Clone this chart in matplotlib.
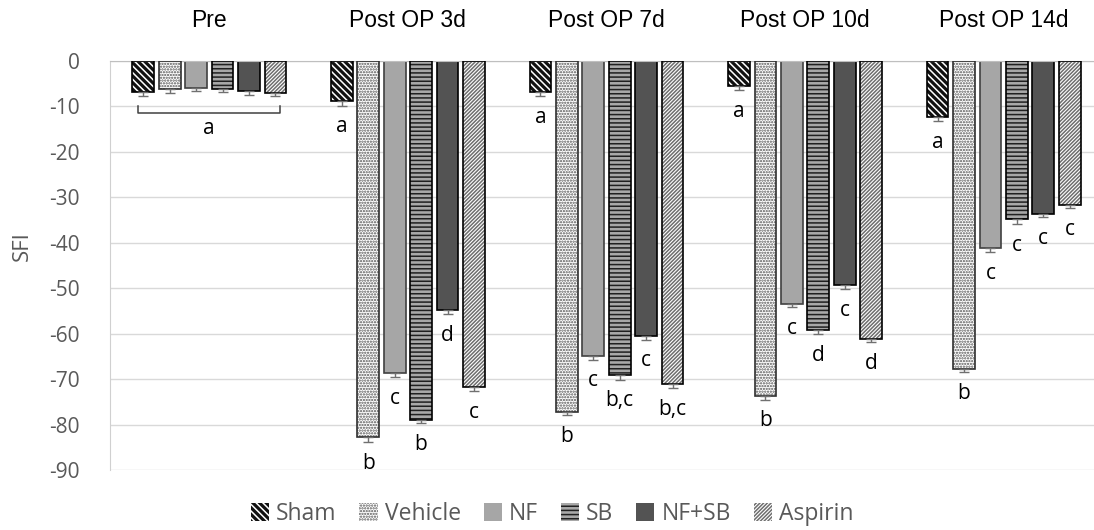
import matplotlib
matplotlib.use("Agg")
import matplotlib.pyplot as plt
import numpy as np

groups = ["Pre", "Post OP 3d", "Post OP 7d", "Post OP 10d", "Post OP 14d"]
series = ["Sham", "Vehicle", "NF", "SB", "NF+SB", "Aspirin"]

# SFI means per series, one value per time point
sham = [-6.8, -8.9, -6.9, -5.4, -12.3]
vehicle = [-6.2, -82.8, -77.2, -73.7, -67.7]
nf = [-6.0, -68.7, -64.9, -53.4, -41.2]
sb = [-6.1, -78.9, -69.2, -59.2, -34.8]
nf_sb = [-6.7, -54.9, -60.5, -49.4, -33.6]
aspirin = [-7.0, -71.8, -71.1, -61.1, -31.7]
values = [sham, vehicle, nf, sb, nf_sb, aspirin]

# error (lower side only)
errors = [
    [0.9, 0.9, 0.9, 0.9, 0.9],
    [0.8, 1.0, 0.8, 0.8, 0.8],
    [0.7, 0.9, 0.8, 0.8, 0.8],
    [0.7, 0.8, 0.9, 0.8, 1.0],
    [0.8, 0.8, 0.8, 0.8, 0.8],
    [0.8, 0.9, 0.8, 0.8, 0.7],
]

# significance letters (Pre group shares one bracket label)
letters = [
    ["", "a", "a", "a", "a"],
    ["", "b", "b", "b", "b"],
    ["", "c", "c", "c", "c"],
    ["", "b", "b,c", "d", "c"],
    ["", "d", "c", "c", "c"],
    ["", "c", "b,c", "d", "c"],
]
pre_letter = "a"

# face, hatch colour, hatch, outline
styles = [
    ("#111111", "white", "\\\\\\\\\\", "black"),
    ("white", "#555555", "......", "#303030"),
    ("#a6a6a6", None, "", "#404040"),
    ("#a8a8a8", "#202020", "----", "black"),
    ("#535353", None, "", "black"),
    ("white", "#6e6e6e", "/////////", "black"),
]

plt.rcParams["font.family"] = ["Open Sans", "DejaVu Sans"]
plt.rcParams["hatch.linewidth"] = 1.1
plt.rcParams["axes.unicode_minus"] = False

fig = plt.figure(figsize=(10.94, 5.30), dpi=100)
ax = fig.add_axes([110 / 1094, 1 - 470 / 530, (1103 - 110) / 1094, (470 - 61) / 530])

x = np.arange(len(groups))
step = 0.133
width = 0.109

for i, (name, vals, errs) in enumerate(zip(series, values, errors)):
    face, hcol, hatch, edge = styles[i]
    pos = x + (i - 2.5) * step
    if hatch:
        ax.bar(pos, vals, width, color=face, edgecolor=hcol, hatch=hatch,
               linewidth=0, zorder=2)
        ax.bar(pos, vals, width, fill=False, edgecolor=edge, linewidth=1.2,
               zorder=3)
    else:
        ax.bar(pos, vals, width, color=face, edgecolor=edge, linewidth=1.2,
               zorder=2)
    ax.errorbar(pos, vals, yerr=[errs, [0] * len(errs)], fmt="none",
                ecolor="#707070", elinewidth=1, capsize=3.5, capthick=1,
                zorder=4)
    # proxy for legend
    ax.bar([0], [0], 0, color=face, edgecolor=hcol if hatch else edge,
           hatch=hatch, linewidth=0, label=name)
    for j, lab in enumerate(letters[i]):
        if lab:
            ax.text(pos[j], vals[j] - errs[j] - 2.4, lab, ha="center", va="top",
                    fontsize=15, color="black")

# bracket for the Pre group
left = x[0] - 2.5 * step - width / 2 + 0.03
right = x[0] + 2.5 * step + width / 2 - 0.03
low = min(v[0] - e[0] for v, e in zip(values, errors))
by = low - 3.7
ax.plot([left, left, right, right], [by + 1.6, by, by, by + 1.6],
        color="#404040", linewidth=1.1, zorder=4)
ax.text(x[0], by - 1.0, pre_letter, ha="center", va="top", fontsize=15)

ax.set_ylim(-90, 0)
ax.set_xlim(-0.5, len(groups) - 0.5)
ax.set_yticks(np.arange(-90, 1, 10))
ax.yaxis.grid(True, color="#d9d9d9", linewidth=1, zorder=0)
ax.set_axisbelow(True)

ax.xaxis.tick_top()
ax.set_xticks(x)
ax.set_xticklabels(groups, fontsize=16.5, family=["Liberation Sans", "DejaVu Sans"],
                   color="black")
ax.tick_params(axis="x", length=0, pad=21)
ax.tick_params(axis="y", length=0, pad=22, labelsize=15, labelcolor="#595959")

for s in ["right", "bottom"]:
    ax.spines[s].set_visible(False)
ax.spines["top"].set_color("#bfbfbf")
ax.spines["left"].set_color("#d0d0d0")

fig.text(22 / 1094, 1 - 246 / 530, "SFI", rotation=90, ha="center", va="center",
         fontsize=16, color="#595959")

handles, labels = ax.get_legend_handles_labels()
fig.legend(handles, labels, loc="center", bbox_to_anchor=(552 / 1094, 1 - 514 / 530),
           ncol=6, frameon=False, fontsize=16.5, handlelength=0.8, handleheight=0.8,
           handletextpad=0.3, columnspacing=1.0, labelcolor="#595959")

fig.savefig("out.png", dpi=100)
